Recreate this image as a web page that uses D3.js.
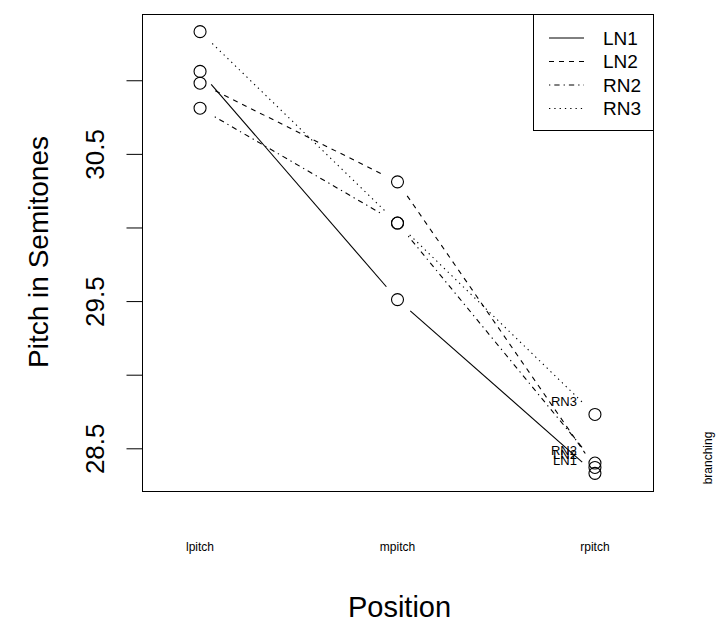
<!DOCTYPE html>
<html>
<head>
<meta charset="utf-8">
<script src="https://cdn.jsdelivr.net/npm/d3@7"></script>
<style>
  body { margin: 0; background: #fff; }
  svg { font-family: "Liberation Sans", Arial, sans-serif; }
</style>
</head>
<body>
<svg id="chart" width="716" height="622"></svg>
<script>
// values
var positions = ["lpitch", "mpitch", "rpitch"];
var groups = ["LN1", "LN2", "RN2", "RN3"];
var ln1 = [31.06, 29.51, 28.33];
var ln2 = [30.98, 30.31, 28.37];
var rn2 = [30.81, 30.03, 28.40];
var rn3 = [31.33, 30.03, 28.73];
var yTicks = [28.5, 29, 29.5, 30, 30.5, 31];
var yTickLabels = ["28.5", "", "29.5", "", "30.5", ""];

var series = [ln1, ln2, rn2, rn3];
var dashes = [null, "5,5", "1.3,4,5.3,4", "1.3,4"];

var svg = d3.select("#chart");
var boxL = 142, boxR = 653, boxT = 14, boxB = 491;

var x = d3.scaleLinear().domain([0.706, 3.294]).range([boxL, boxR]);
var y = d3.scaleLinear().domain([28.21, 31.45]).range([boxB, boxT]);

// plot box
svg.append("rect")
  .attr("x", boxL + 0.5).attr("y", boxT + 0.5)
  .attr("width", boxR - boxL).attr("height", boxB - boxT)
  .attr("fill", "none").attr("stroke", "#000");

// y axis
var yAxis = d3.axisLeft(y)
  .tickValues(yTicks)
  .tickSize(16)
  .tickFormat(function (d, i) { return yTickLabels[i]; });

var gy = svg.append("g")
  .attr("transform", "translate(" + (boxL + 0.5) + ",0)")
  .call(yAxis);
gy.select(".domain").remove();
gy.selectAll("line").attr("stroke", "#000");
gy.selectAll(".tick").attr("transform", null);
gy.selectAll(".tick line")
  .attr("y1", function (d) { return y(d) + 0.5; })
  .attr("y2", function (d) { return y(d) + 0.5; });
gy.selectAll("text")
  .attr("font-size", 26)
  .attr("fill", "#000")
  .attr("text-anchor", "middle")
  .attr("dy", 0)
  .attr("x", 0)
  .attr("y", 0)
  .attr("transform", function (d) {
    return "translate(" + (103 - boxL) + "," + (y(d) + 0.5) + ") rotate(-90)";
  });

// x category labels
svg.selectAll(".xlab")
  .data(positions)
  .enter().append("text")
  .attr("class", "xlab")
  .attr("x", function (d, i) { return x(i + 1); })
  .attr("y", 551)
  .attr("text-anchor", "middle")
  .attr("font-size", 12)
  .text(function (d) { return d; });

// axis titles
svg.append("text")
  .attr("x", (boxL + boxR) / 2 + 2).attr("y", 617)
  .attr("text-anchor", "middle").attr("font-size", 29)
  .text("Position");

svg.append("text")
  .attr("transform", "translate(48," + 252 + ") rotate(-90)")
  .attr("text-anchor", "middle").attr("font-size", 28)
  .text("Pitch in Semitones");

svg.append("text")
  .attr("transform", "translate(712,458) rotate(-90)")
  .attr("text-anchor", "middle").attr("font-size", 12)
  .text("branching");

// lines with gaps around the points (type = "b")
var gap = 17;
series.forEach(function (vals, s) {
  for (var i = 0; i < vals.length - 1; i++) {
    var x1 = x(i + 1), y1 = y(vals[i]), x2 = x(i + 2), y2 = y(vals[i + 1]);
    var len = Math.sqrt((x2 - x1) * (x2 - x1) + (y2 - y1) * (y2 - y1));
    var ux = (x2 - x1) / len, uy = (y2 - y1) / len;
    svg.append("line")
      .attr("x1", x1 + ux * gap).attr("y1", y1 + uy * gap)
      .attr("x2", x2 - ux * gap).attr("y2", y2 - uy * gap)
      .attr("stroke", "#000")
      .attr("stroke-width", 1.1)
      .attr("stroke-dasharray", dashes[s]);
  }
  svg.selectAll(".pt" + s)
    .data(vals)
    .enter().append("circle")
    .attr("class", "pt" + s)
    .attr("cx", function (d, i) { return x(i + 1); })
    .attr("cy", function (d) { return y(d); })
    .attr("r", 6)
    .attr("fill", "none")
    .attr("stroke", "#000")
    .attr("stroke-width", 1.1);

  // label near the end of each line
  svg.append("text")
    .attr("x", x(vals.length) - 18)
    .attr("y", y(vals[vals.length - 1]) - 12.5)
    .attr("dominant-baseline", "central")
    .attr("text-anchor", "end")
    .attr("font-size", 13)
    .text(groups[s]);
});

// legend
var lg = svg.append("g");
lg.append("rect")
  .attr("x", 533.5).attr("y", boxT + 0.5)
  .attr("width", boxR - 533).attr("height", 116)
  .attr("fill", "#fff").attr("stroke", "#000");

groups.forEach(function (g, i) {
  var ly = 38 + i * 23.5;
  lg.append("line")
    .attr("x1", 549).attr("x2", 584)
    .attr("y1", ly).attr("y2", ly)
    .attr("stroke", "#000")
    .attr("stroke-dasharray", dashes[i]);
  lg.append("text")
    .attr("x", 603).attr("y", ly)
    .attr("dominant-baseline", "central")
    .attr("font-size", 19)
    .text(g);
});
</script>
</body>
</html>
